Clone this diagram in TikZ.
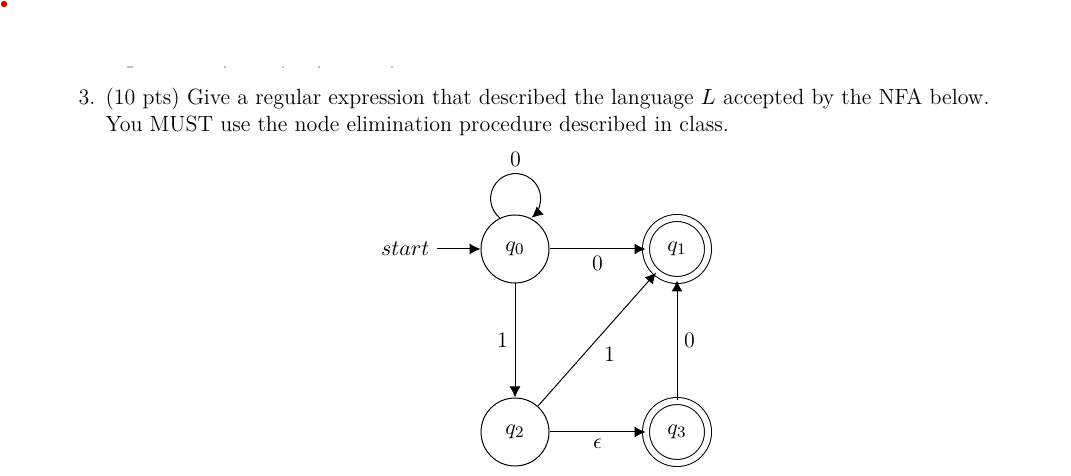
\documentclass[tikz,border=0pt]{standalone}
\usepackage{amsmath}
\usetikzlibrary{arrows.meta, positioning}
\colorlet{dot red}{red!85!black}
\colorlet{scan mark}{black!25}
\tikzset{
  qstate/.style={draw, circle, minimum size=34pt, inner sep=0pt},
  qaccept/.style={qstate, double, double distance=3pt, minimum size=31pt},
  trans/.style={-{Latex[length=5.5pt, width=5.5pt]}},
  lbl/.style={font=\fontsize{11}{13.5}\selectfont},
  task/.style={anchor=base west, inner sep=0pt}
}

\begin{document}
\begin{tikzpicture}[x=0.5pt, y=0.5pt, line width=0.5pt, every node/.style={lbl}]
    \useasboundingbox (0,0) rectangle (1071,476);
    \fill[dot red] (4,472) circle (3.2);
    \foreach \a/\b in {127/133, 224/226, 282/284, 318/320, 391/393}
        \fill[scan mark] (\a,408) rectangle (\b,409.5);
    \node[task] (num) at (78,371.5) {3.};
    \node[task] (task1) at (105,371.5)
        {(10 pts) Give a regular expression that described the language $L$ accepted by the NFA below.};
    \node[task] (task2) at (105,344.5)
        {You MUST use the node elimination procedure described in class.};
    \node[qstate] (q0) at (515,227) {$q_0$};
    \node[qaccept] (q1) at (677,227) {$q_1$};
    \node[qstate] (q2) at (515,44) {$q_2$};
    \node[qaccept] (q3) at (677,44) {$q_3$};
    \node[left=22pt of q0] (start) {$start$};
    \node (loopzero) at (515.5,317) {0};
    \draw[trans] (start) -- (q0);
    \draw[trans] (q0.116) arc[start angle=231, end angle=-50, radius=25];
    \draw[trans] (q0) -- node[below] {0} (q1);
    \draw[trans] (q0) -- node[left] {1} (q2);
    \draw[trans] (q2) -- node[below right] {1} (q1);
    \draw[trans] (q3) -- node[right] {0} (q1);
    \draw[trans] (q2) -- node[below] {$\epsilon$} (q3);
\end{tikzpicture}
\end{document}
